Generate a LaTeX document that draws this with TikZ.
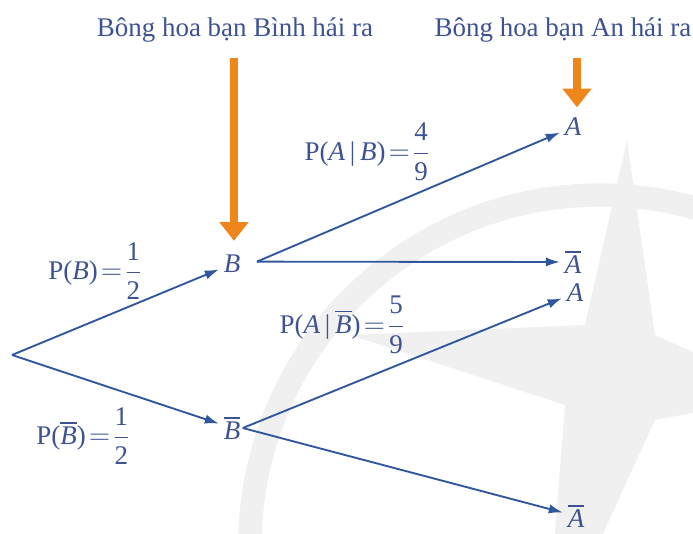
\documentclass[tikz,border=0pt]{standalone}
\usepackage{amsmath}
\usepackage{fontspec}
\setmainfont{Liberation Serif}
\usetikzlibrary{arrows.meta,positioning}

\definecolor{treeblue}{RGB}{48,86,158}
\definecolor{textblue}{RGB}{60,82,146}
\definecolor{pickorange}{RGB}{238,134,28}

\newcommand{\ev}[1]{\text{\itshape #1}}
\newcommand{\evbar}[1]{\overline{\text{\itshape #1}}}
\newcommand{\num}[1]{\text{#1}}

\tikzset{
  branch/.style={treeblue, line width=1.6pt, -{Latex[length=12pt,width=8pt]}},
  pick/.style={pickorange, line width=6pt, -{Triangle[length=16pt,width=24pt]}},
  event/.style={textblue, inner sep=4pt, font=\fontsize{23}{27}\selectfont},
  prob/.style={textblue, inner sep=0pt, font=\fontsize{23}{27}\selectfont},
  heading/.style={textblue, inner sep=0pt, font=\fontsize{23}{27}\selectfont},
}

\begin{document}
\begin{tikzpicture}[x=0.03cm,y=-0.03cm]
  \useasboundingbox (0,0) rectangle (693,534);

  \begin{scope}
    \clip (0,0) rectangle (693,534);
    \draw[gray!12, line width=20pt] (600,545) circle [radius=350];
    \fill[gray!12] (627,140) -- (585,325) -- (350,335) -- (565,405)
      -- (545,660) -- (655,420) -- (790,395) -- (655,335) -- cycle;
  \end{scope}

  \node[heading] (headB) at (235,30) {Bông hoa bạn Bình hái ra};
  \node[heading] (headA) at (563,30) {Bông hoa bạn An hái ra};
  \coordinate (dropB) at (234,58);
  \coordinate (dropA) at (577,58);

  \coordinate (root) at (12,355);
  \node[event] (B) at (232,264) {$\ev{B}$};
  \node[event] (Bc) at (232,428) {$\evbar{B}$};
  \node[event] (A1) at (573,127) {$\ev{A}$};
  \node[event] (Ac1) at (573,262) {$\evbar{A}$};
  \node[event] (A2) at (575,293) {$\ev{A}$};
  \node[event] (Ac2) at (576,516) {$\evbar{A}$};

  \node[prob] (pB) at (95,271)
    {$\text{P(}\ev{B}\text{)}\!=\!\dfrac{\num{1}}{\num{2}}$};
  \node[prob] (pBc) at (83,436)
    {$\text{P(}\evbar{B}\text{)}\!=\!\dfrac{\num{1}}{\num{2}}$};
  \node[prob] (pAB) at (367,152)
    {$\text{P(}\ev{A}\,\text{|}\,\ev{B}\text{)}\!=\!\dfrac{\num{4}}{\num{9}}$};
  \node[prob] (pABc) at (342,325)
    {$\text{P(}\ev{A}\,\text{|}\,\evbar{B}\text{)}\!=\!\dfrac{\num{5}}{\num{9}}$};

  \draw[pick, shorten >=8pt] (dropB) -- (dropB |- B.north);
  \draw[pick, shorten >=5pt] (dropA) -- (dropA |- A1.north);

  \draw[branch] (root) -- (B);
  \draw[branch] (root) -- (Bc);
  \draw[branch] ([xshift=10pt,yshift=2pt]B.east) -- (A1);
  \draw[branch] ([xshift=10pt,yshift=2pt]B.east) -- (Ac1);
  \draw[branch] ([xshift=-2pt]Bc.east) -- (A2);
  \draw[branch] ([xshift=-2pt]Bc.east) -- (Ac2);
\end{tikzpicture}
\end{document}
